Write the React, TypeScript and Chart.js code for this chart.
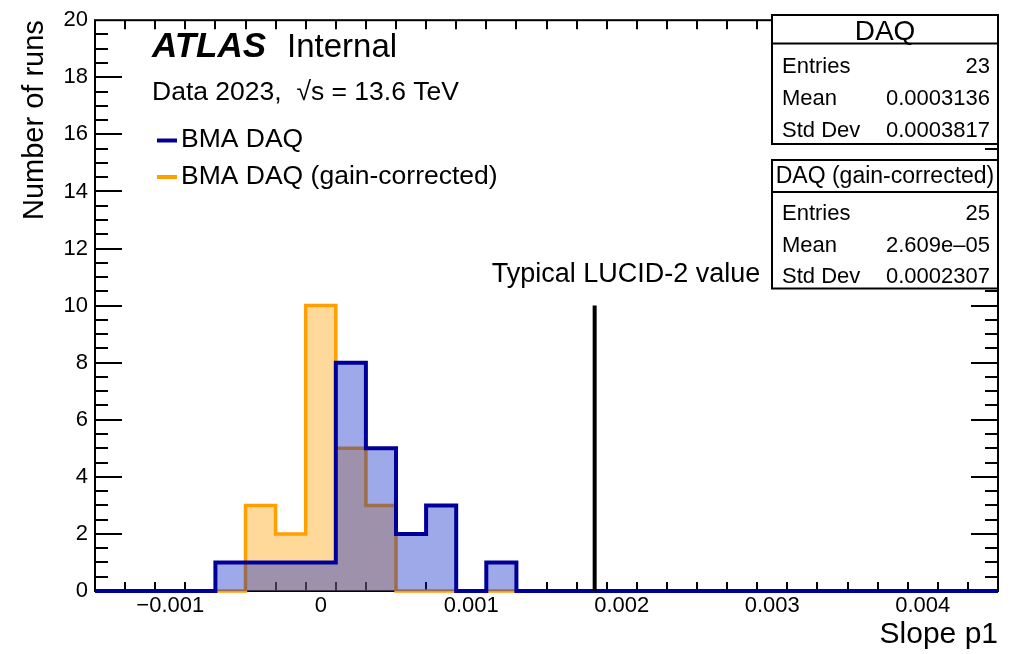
import React, { useEffect, useRef } from "react";
import { Chart, registerables } from "chart.js";

Chart.register(...registerables);

// ---------- data ----------
const X_MIN = -0.0015;
const X_MAX = 0.0045;
const Y_MIN = 0;
const Y_MAX = 20;

const binWidth = 0.0002;
const binLowEdges = [-0.0007, -0.0005, -0.0003, -0.0001, 0.0001, 0.0003, 0.0005, 0.0007, 0.0009, 0.0011];
const daqCounts = [1, 1, 1, 1, 8, 5, 2, 3, 0, 1];
const gainCorrectedCounts = [0, 3, 2, 10, 5, 3, 0, 0, 0, 0];

const xTickValues = [-0.001, 0, 0.001, 0.002, 0.003, 0.004];
const xTickLabels = ["\u22120.001", "0", "0.001", "0.002", "0.003", "0.004"];
const yTickValues = [0, 2, 4, 6, 8, 10, 12, 14, 16, 18, 20];
const yTickLabels = ["0", "2", "4", "6", "8", "10", "12", "14", "16", "18", "20"];
const xMinorStep = 0.0002;
const yMinorStep = 0.5;

const lucidValue = 0.00182;
const lucidHeight = 10;
const lucidLabel = "Typical LUCID-2 value";

const seriesLabels = ["BMA DAQ", "BMA DAQ (gain-corrected)"];
const statTitles = ["DAQ", "DAQ (gain-corrected)"];
const statNames = ["Entries", "Mean", "Std Dev"];
const daqStats = ["23", "0.0003136", "0.0003817"];
const gainCorrectedStats = ["25", "2.609e\u201305", "0.0002307"];

// ---------- styles ----------
const FONT = "'Liberation Sans', Arial, Helvetica, sans-serif";
const BLUE_LINE = "#000099";
const BLUE_FILL = "rgba(0, 30, 200, 0.38)";
const ORANGE_LINE = "#ff9f00";
const ORANGE_FILL = "rgba(255, 159, 0, 0.4)";

function stepPoints(edges: number[], counts: number[], w: number) {
  const pts: { x: number; y: number }[] = [{ x: X_MIN, y: 0 }, { x: edges[0], y: 0 }];
  for (let i = 0; i < edges.length; i++) {
    pts.push({ x: edges[i], y: counts[i] });
    pts.push({ x: edges[i] + w, y: counts[i] });
  }
  pts.push({ x: edges[edges.length - 1] + w, y: 0 });
  pts.push({ x: X_MAX, y: 0 });
  return pts;
}

const rootFramePlugin = {
  id: "rootFrame",
  beforeDatasetsDraw(chart: any) {
    const { ctx, chartArea: a, scales } = chart;
    const x = scales.x;
    const y = scales.y;
    ctx.save();
    ctx.strokeStyle = "#000";
    ctx.lineWidth = 2;
    ctx.strokeRect(a.left, a.top, a.right - a.left, a.bottom - a.top);
    ctx.beginPath();
    const nX = Math.round((X_MAX - X_MIN) / xMinorStep);
    for (let i = 1; i < nX; i++) {
      const v = X_MIN + i * xMinorStep;
      const px = Math.round(x.getPixelForValue(v));
      const major = xTickValues.some((t) => Math.abs(t - v) < 1e-9);
      const len = major ? 18 : 9;
      ctx.moveTo(px, a.bottom);
      ctx.lineTo(px, a.bottom - len);
      ctx.moveTo(px, a.top);
      ctx.lineTo(px, a.top + len);
    }
    const nY = Math.round((Y_MAX - Y_MIN) / yMinorStep);
    for (let i = 1; i < nY; i++) {
      const v = Y_MIN + i * yMinorStep;
      const py = Math.round(y.getPixelForValue(v));
      const major = yTickValues.some((t) => Math.abs(t - v) < 1e-9);
      const len = major ? 27 : 13;
      ctx.moveTo(a.left, py);
      ctx.lineTo(a.left + len, py);
      ctx.moveTo(a.right, py);
      ctx.lineTo(a.right - len, py);
    }
    ctx.stroke();
    ctx.restore();
  },
  afterDraw(chart: any) {
    const { ctx, chartArea: a, data } = chart;
    ctx.save();
    ctx.fillStyle = "#000";
    ctx.textBaseline = "alphabetic";

    // ATLAS label
    ctx.textAlign = "left";
    ctx.font = `italic bold 35px ${FONT}`;
    ctx.fillText("ATLAS", 152, 57);
    ctx.font = `33px ${FONT}`;
    ctx.fillText("Internal", 287, 57);
    ctx.font = `26.5px ${FONT}`;
    ctx.fillText("Data 2023,  \u221As = 13.6 TeV", 152, 100);

    // legend
    const legendRows = [147, 183.5];
    const dsIdx = [1, 2];
    ctx.font = `26.5px ${FONT}`;
    for (let i = 0; i < 2; i++) {
      const ds = data.datasets[dsIdx[i]];
      const yy = legendRows[i];
      ctx.strokeStyle = ds.borderColor;
      ctx.lineWidth = 4;
      ctx.beginPath();
      ctx.moveTo(157, yy - 6.5);
      ctx.lineTo(177, yy - 6.5);
      ctx.stroke();
      ctx.fillStyle = "#000";
      ctx.fillText(seriesLabels[i], 181, yy);
    }

    // LUCID label
    ctx.font = `27px ${FONT}`;
    ctx.textAlign = "center";
    ctx.fillText(lucidLabel, 626, 281.5);

    // stat boxes
    const drawBox = (top: number, bottom: number, sep: number, title: string, titleSize: number, titleBase: number, rows: number[], values: string[]) => {
      const left = 772;
      const right = a.right;
      ctx.fillStyle = "#fff";
      ctx.fillRect(left, top, right - left, bottom - top);
      ctx.strokeStyle = "#000";
      ctx.lineWidth = 2;
      ctx.strokeRect(left, top, right - left, bottom - top);
      ctx.beginPath();
      ctx.moveTo(left, sep);
      ctx.lineTo(right, sep);
      ctx.stroke();
      ctx.fillStyle = "#000";
      ctx.font = `${titleSize}px ${FONT}`;
      ctx.textAlign = "center";
      ctx.fillText(title, (left + right) / 2, titleBase);
      ctx.font = `22px ${FONT}`;
      for (let i = 0; i < rows.length; i++) {
        ctx.textAlign = "left";
        ctx.fillText(statNames[i], 782, rows[i]);
        ctx.textAlign = "right";
        ctx.fillText(values[i], 990, rows[i]);
      }
    };
    drawBox(15, 144, 43.5, statTitles[0], 28, 39.5, [73.3, 105, 136.7], daqStats);
    drawBox(160, 288.5, 192, statTitles[1], 23, 183, [220, 251.6, 283], gainCorrectedStats);

    ctx.restore();
  },
};

export default function App() {
  const canvasRef = useRef<HTMLCanvasElement | null>(null);

  useEffect(() => {
    const canvas = canvasRef.current;
    if (!canvas) return;
    const chart = new Chart(canvas, {
      type: "line",
      data: {
        datasets: [
          {
            label: lucidLabel,
            data: [
              { x: lucidValue, y: 0 },
              { x: lucidValue, y: lucidHeight },
            ],
            borderColor: "#000",
            borderWidth: 4,
            pointRadius: 0,
            fill: false,
            clip: false as any,
          },
          {
            label: seriesLabels[0],
            data: stepPoints(binLowEdges, daqCounts, binWidth),
            borderColor: BLUE_LINE,
            backgroundColor: BLUE_FILL,
            borderWidth: 4,
            borderJoinStyle: "miter",
            pointRadius: 0,
            tension: 0,
            fill: "origin",
            clip: false as any,
          },
          {
            label: seriesLabels[1],
            data: stepPoints(binLowEdges, gainCorrectedCounts, binWidth),
            borderColor: ORANGE_LINE,
            backgroundColor: ORANGE_FILL,
            borderWidth: 3.5,
            borderJoinStyle: "miter",
            pointRadius: 0,
            tension: 0,
            fill: "origin",
            clip: false as any,
          },
        ],
      },
      options: {
        responsive: false,
        animation: false,
        devicePixelRatio: 1,
        layout: { padding: { left: 0, right: 12, top: 15, bottom: 0 } },
        plugins: {
          legend: { display: false },
          tooltip: { enabled: false },
        },
        scales: {
          x: {
            type: "linear",
            min: X_MIN,
            max: X_MAX,
            afterBuildTicks: (s: any) => {
              s.ticks = xTickValues.map((v) => ({ value: v }));
            },
            afterFit: (s: any) => {
              s.height = 63;
            },
            grid: { display: false, drawTicks: false },
            border: { display: false },
            ticks: {
              autoSkip: false,
              maxRotation: 0,
              padding: 2,
              color: "#000",
              font: { family: FONT, size: 22 },
              callback: (_v: any, i: number) => xTickLabels[i],
            },
            title: {
              display: true,
              text: "Slope p1",
              align: "end",
              color: "#000",
              font: { family: FONT, size: 30 },
              padding: { top: 0, bottom: 1 },
            },
          },
          y: {
            type: "linear",
            min: Y_MIN,
            max: Y_MAX,
            afterBuildTicks: (s: any) => {
              s.ticks = yTickValues.map((v) => ({ value: v }));
            },
            afterFit: (s: any) => {
              s.width = 95;
            },
            grid: { display: false, drawTicks: false },
            border: { display: false },
            ticks: {
              autoSkip: false,
              padding: 7,
              color: "#000",
              font: { family: FONT, size: 22 },
              callback: (_v: any, i: number) => yTickLabels[i],
            },
            title: {
              display: true,
              text: "Number of runs",
              align: "end",
              color: "#000",
              font: { family: FONT, size: 29 },
              padding: { top: 18, bottom: 0 },
            },
          },
        },
      } as any,
      plugins: [rootFramePlugin],
    });
    return () => chart.destroy();
  }, []);

  return (
    <div style={{ position: "fixed", left: 0, top: 0, width: 1010, height: 654, background: "#fff" }}>
      <canvas ref={canvasRef} width={1010} height={654} style={{ display: "block" }} />
    </div>
  );
}
